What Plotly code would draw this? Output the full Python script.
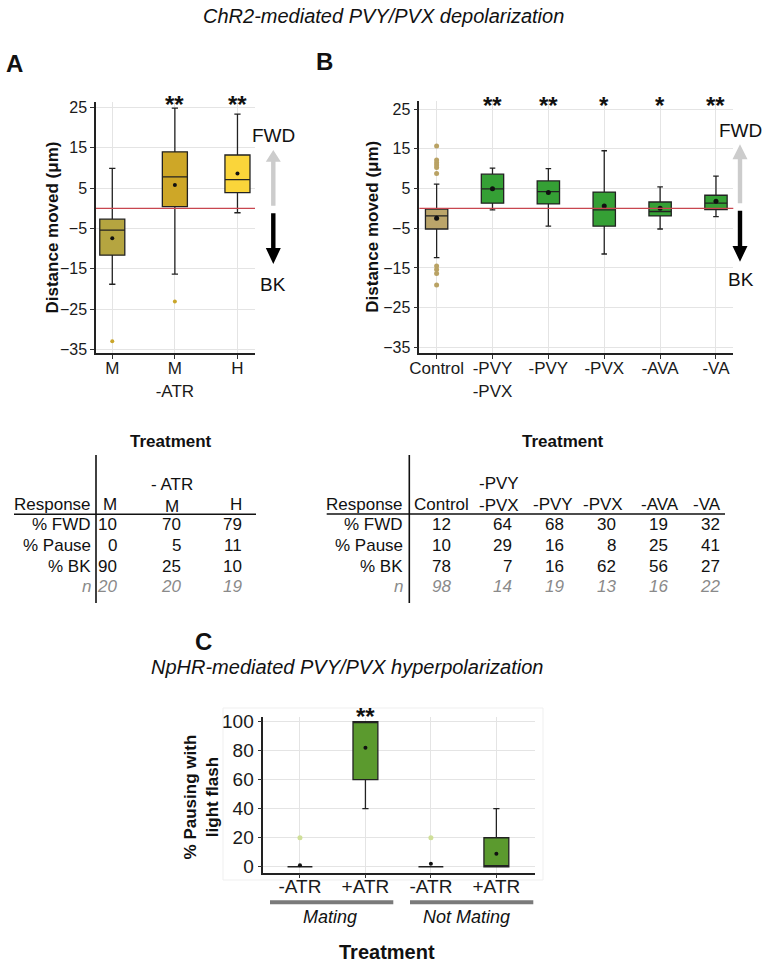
import plotly.graph_objects as go

FONT = "Liberation Sans, Arial, sans-serif"
W, H = 768, 965

# ---------------- data ----------------
# Panel A (ChR2, distance moved, um)
a_cats = ["M", "M<br>-ATR", "H"]
a_q1 = [-11.6, 0.4, 3.9]
a_med = [-5.4, 7.8, 7.1]
a_q3 = [-2.7, 14.0, 13.2]
a_lo = [-18.8, -16.3, -1.1]
a_hi = [9.9, 24.8, 23.3]
a_mean = [-7.4, 5.8, 8.6]
a_out_idx = [0, 1]
a_out_val = [-32.9, -23.1]
a_colors = ["#b5a540", "#cea727", "#fad53a"]
a_sig = ["", "**", "**"]

# Panel B
b_cats = ["Control", "-PVY<br>-PVX", "-PVY", "-PVX", "-AVA", "-VA"]
b_q1 = [-5.2, 1.3, 1.1, -4.5, -1.9, -0.3]
b_med = [-1.9, 4.9, 4.2, -0.4, -0.8, 1.3]
b_q3 = [-0.2, 8.6, 6.9, 4.1, 1.6, 3.3]
b_lo = [-12.4, -0.4, -4.5, -11.5, -5.2, -2.1]
b_hi = [6.1, 10.1, 10.0, 14.5, 5.4, 8.1]
b_mean = [-2.5, 4.9, 4.0, 0.6, 0.0, 1.8]
b_out_idx = [0, 0, 0, 0, 0, 0, 0, 0, 0, 0]
b_out_val = [15.7, 12.2, 11.5, 10.9, 10.3, 8.8, -14.5, -15.4, -16.4, -19.3]
b_colors = ["#bba56a", "#35a035", "#35a035", "#35a035", "#35a035", "#35a035"]
b_sig = ["", "**", "**", "*", "*", "**"]

# Panel C (NpHR, % pausing)
c_cats = ["-ATR", "+ATR", "-ATR", "+ATR"]
c_q1 = [0, 60, 0, 0]
c_med = [0, 100, 0, 0]
c_q3 = [0, 100, 0, 20]
c_lo = [0, 40, 0, 0]
c_hi = [0, 100, 0, 40]
c_mean = [1.0, 82, 2.0, 9]
c_out_idx = [0, 2]
c_out_val = [20, 20]
c_colors = ["#5b9a2e", "#5b9a2e", "#5b9a2e", "#5b9a2e"]
c_sig = ["", "**", "", ""]
c_groups = ["Mating", "Not Mating"]

# Tables
resp_rows = ["% FWD", "% Pause", "% BK"]
ta_head = ["M", "- ATR<br>M", "H"]
ta_vals = [[10, 70, 79], [0, 5, 11], [90, 25, 10]]
ta_n = [20, 20, 19]
tb_head = ["Control", "-PVY<br>-PVX", "-PVY", "-PVX", "-AVA", "-VA"]
tb_vals = [[12, 64, 68, 30, 19, 32], [10, 29, 16, 8, 25, 41], [78, 7, 16, 62, 56, 27]]
tb_n = [98, 14, 19, 13, 16, 22]


def px(x):
    return x / W


def py(y):
    return 1 - y / H


fig = go.Figure()


def add_panel(xa, ya, cats, q1, med, q3, lo, hi, mean, out_idx, out_val, colors,
              width, out_color, dot_size, out_size):
    for i in range(len(cats)):
        fig.add_trace(go.Box(
            x=[i], q1=[q1[i]], median=[med[i]], q3=[q3[i]],
            lowerfence=[lo[i]], upperfence=[hi[i]], orientation="v",
            width=width, fillcolor=colors[i], line=dict(color="#222222", width=1.3),
            whiskerwidth=0.25, boxpoints=False, xaxis=xa, yaxis=ya,
            showlegend=False, hoverinfo="skip"))
    fig.add_trace(go.Scatter(
        x=out_idx, y=out_val, mode="markers", xaxis=xa, yaxis=ya,
        marker=dict(color=out_color, size=out_size), showlegend=False, hoverinfo="skip"))
    fig.add_trace(go.Scatter(
        x=list(range(len(cats))), y=mean, mode="markers", xaxis=xa, yaxis=ya,
        marker=dict(color="#111111", size=dot_size), showlegend=False, hoverinfo="skip"))


add_panel("x", "y", a_cats, a_q1, a_med, a_q3, a_lo, a_hi, a_mean, a_out_idx, a_out_val,
          a_colors, 0.4, "#c9a52a", 4, 4)
add_panel("x2", "y2", b_cats, b_q1, b_med, b_q3, b_lo, b_hi, b_mean, b_out_idx, b_out_val,
          b_colors, 0.4, "#b9a264", 5, 5)
add_panel("x3", "y3", c_cats, c_q1, c_med, c_q3, c_lo, c_hi, c_mean, c_out_idx, c_out_val,
          c_colors, 0.38, "#cfdf98", 4, 5)


def ax(size, **kw):
    d = dict(showline=True, linecolor="#222222", linewidth=1.5, mirror=False,
             showgrid=True, gridcolor="#e4e4e4", gridwidth=1, zeroline=False,
             ticks="outside", ticklen=4, tickcolor="#333333", automargin=False,
             tickfont=dict(family=FONT, size=size, color="#1a1a1a"))
    d.update(kw)
    return d


fig.update_layout(
    width=W, height=H, margin=dict(l=0, r=0, t=0, b=0, pad=0, autoexpand=False),
    paper_bgcolor="white", plot_bgcolor="white", showlegend=False,
    font=dict(family=FONT, color="#111111"),
    xaxis=ax(17, domain=[px(96), px(255)], range=[-0.26, 2.28], tickvals=[0, 1, 2],
             ticktext=a_cats, anchor="y", ticklabelstandoff=-5),
    yaxis=ax(16, domain=[py(353.3), py(101.7)], range=[-35.9, 26.4],
             tickvals=[25, 15, 5, -5, -15, -25, -35], anchor="x"),
    xaxis2=ax(17, domain=[px(419.3), px(733.3)], range=[-0.31, 5.31],
              tickvals=list(range(6)), ticktext=b_cats, anchor="y2", ticklabelstandoff=-5),
    yaxis2=ax(16, domain=[py(353.3), py(100.7)], range=[-36.5, 27.1],
              tickvals=[25, 15, 5, -5, -15, -25, -35], anchor="x2"),
    xaxis3=ax(19, domain=[px(263.3), px(535)], range=[-0.56, 3.59],
              tickvals=list(range(4)), ticktext=c_cats, anchor="y3", ticklabelstandoff=-8),
    yaxis3=ax(19, domain=[py(872.7), py(716.7)], range=[-4.1, 103.4],
              tickvals=[0, 20, 40, 60, 80, 100], anchor="x3"),
)

shapes = []
ann = []

# zero reference lines
for xd, yy in [("x domain", "y"), ("x2 domain", "y2")]:
    shapes.append(dict(type="line", xref=xd, yref=yy, x0=0, x1=1, y0=0, y1=0,
                       line=dict(color="#c8464f", width=1.3), layer="above"))

# panel C faint frame
shapes.append(dict(type="rect", xref="paper", yref="paper", x0=px(223), x1=px(543),
                   y0=py(880), y1=py(708), line=dict(color="#efefef", width=1), layer="below"))


def text(x, y, s, size=17, bold=False, italic=False, color="#111111", xanchor="center",
         xref="paper", yref="paper", angle=0):
    if bold:
        s = "<b>" + s + "</b>"
    if italic:
        s = "<i>" + s + "</i>"
    ann.append(dict(x=x, y=y, xref=xref, yref=yref, text=s, showarrow=False,
                    xanchor=xanchor, yanchor="middle", textangle=angle,
                    font=dict(family=FONT, size=size, color=color)))


# titles
text(px(383.5), py(16), "ChR2-mediated PVY/PVX depolarization", size=20, italic=True)
text(px(347), py(666.7), "NpHR-mediated PVY/PVX hyperpolarization", size=20, italic=True)
text(px(14), py(63), "A", size=24, bold=True)
text(px(324.7), py(62), "B", size=24, bold=True)
text(px(203), py(641), "C", size=24, bold=True)

# y titles
text(px(52), py(227.5), "Distance moved (μm)", size=17, bold=True, angle=-90)
text(px(371.7), py(227), "Distance moved (μm)", size=17, bold=True, angle=-90)
text(px(201.7), py(796.7), "% Pausing with<br>light flash", size=17, bold=True, angle=-90)

# significance stars
for i, s in enumerate(a_sig):
    if s:
        text(i, py(105), s, size=24, bold=True, xref="x")
for i, s in enumerate(b_sig):
    if s:
        text(i, py(105.5), s, size=24, bold=True, xref="x2")
for i, s in enumerate(c_sig):
    if s:
        text(i, py(716), s, size=24, bold=True, xref="x3")


# direction arrows
def arrow(xc, y_base, y_tip, y_end, color):
    sw, hw = 2.2, 7.5
    shapes.append(dict(type="path", xref="paper", yref="paper",
                       path=f"M {px(xc-sw)},{py(y_end)} L {px(xc+sw)},{py(y_end)} "
                            f"L {px(xc+sw)},{py(y_base)} L {px(xc+hw)},{py(y_base)} "
                            f"L {px(xc)},{py(y_tip)} L {px(xc-hw)},{py(y_base)} "
                            f"L {px(xc-sw)},{py(y_base)} Z",
                       fillcolor=color, line=dict(width=0)))


arrow(273.3, 161.7, 150, 205.7, "#cccccc")
arrow(273.3, 248, 264, 213.3, "#000000")
arrow(740, 159.3, 144.3, 203.3, "#cccccc")
arrow(740, 246, 261.7, 210.7, "#000000")
text(px(273.3), py(135), "FWD", size=19)
text(px(273.3), py(285), "BK", size=19)
text(px(740.7), py(130.7), "FWD", size=19)
text(px(740.7), py(279.3), "BK", size=19)

# panel C group bars and labels
for gx0, gx1, gc, lab in [(270, 393.3, 330, c_groups[0]), (410, 533.3, 466.7, c_groups[1])]:
    shapes.append(dict(type="line", xref="paper", yref="paper", x0=px(gx0), x1=px(gx1),
                       y0=py(902.3), y1=py(902.3), line=dict(color="#7a7a7a", width=4)))
    text(px(gc), py(917), lab, size=18, italic=True)
text(px(387), py(952), "Treatment", size=20, bold=True)

# ---------------- tables ----------------
row_y = [524.5, 545.5, 566, 586]
# table A
text(px(171), py(441.7), "Treatment", size=17, bold=True)
shapes.append(dict(type="line", xref="paper", yref="paper", x0=px(96), x1=px(96),
                   y0=py(455), y1=py(603), line=dict(color="#111111", width=1.6)))
shapes.append(dict(type="line", xref="paper", yref="paper", x0=px(14), x1=px(256),
                   y0=py(514.3), y1=py(514.3), line=dict(color="#111111", width=1.6)))
text(px(93), py(504.5), "Response", xanchor="right")
ta_right = [118.5, 182.5, 243.5]
for j in range(3):
    if "<br>" in ta_head[j]:
        text(px(172), py(495), ta_head[j])
    else:
        text(px(ta_right[j]), py(504.5), ta_head[j], xanchor="right")
for r in range(3):
    text(px(93), py(row_y[r]), resp_rows[r], xanchor="right")
    for j in range(3):
        text(px(ta_right[j]), py(row_y[r]), str(ta_vals[r][j]), xanchor="right")
text(px(93), py(row_y[3]), "n", italic=True, color="#8a8a8a", xanchor="right")
for j in range(3):
    text(px(ta_right[j]), py(row_y[3]), str(ta_n[j]), italic=True, color="#8a8a8a",
         xanchor="right")

# table B
text(px(563.3), py(441.7), "Treatment", size=17, bold=True)
shapes.append(dict(type="line", xref="paper", yref="paper", x0=px(409.3), x1=px(409.3),
                   y0=py(455), y1=py(603), line=dict(color="#111111", width=1.6)))
shapes.append(dict(type="line", xref="paper", yref="paper", x0=px(326.7), x1=px(725),
                   y0=py(514), y1=py(514), line=dict(color="#111111", width=1.6)))
text(px(405), py(504), "Response", xanchor="right")
tb_head_c = [441.5, 498.5, 552.5, 603, 660, 706.5]
tb_val_pos = [441.5, 514, 566, 617.5, 669.5, 721.5]
for j in range(6):
    if "<br>" in tb_head[j]:
        text(px(tb_head_c[j]), py(494.5), tb_head[j])
    else:
        text(px(tb_head_c[j]), py(504), tb_head[j])
for r in range(3):
    text(px(405), py(row_y[r]), resp_rows[r], xanchor="right")
    for j in range(6):
        text(px(tb_val_pos[j]), py(row_y[r]), str(tb_vals[r][j]),
             xanchor="center" if j == 0 else "right")
text(px(405), py(row_y[3]), "n", italic=True, color="#8a8a8a", xanchor="right")
for j in range(6):
    text(px(tb_val_pos[j]), py(row_y[3]), str(tb_n[j]), italic=True, color="#8a8a8a",
         xanchor="center" if j == 0 else "right")

fig.update_layout(shapes=shapes, annotations=ann)
fig.write_html("out.html", config={"displayModeBar": False},
               post_script="document.body.style.margin='0px';"
                           "document.body.style.padding='0px';")
